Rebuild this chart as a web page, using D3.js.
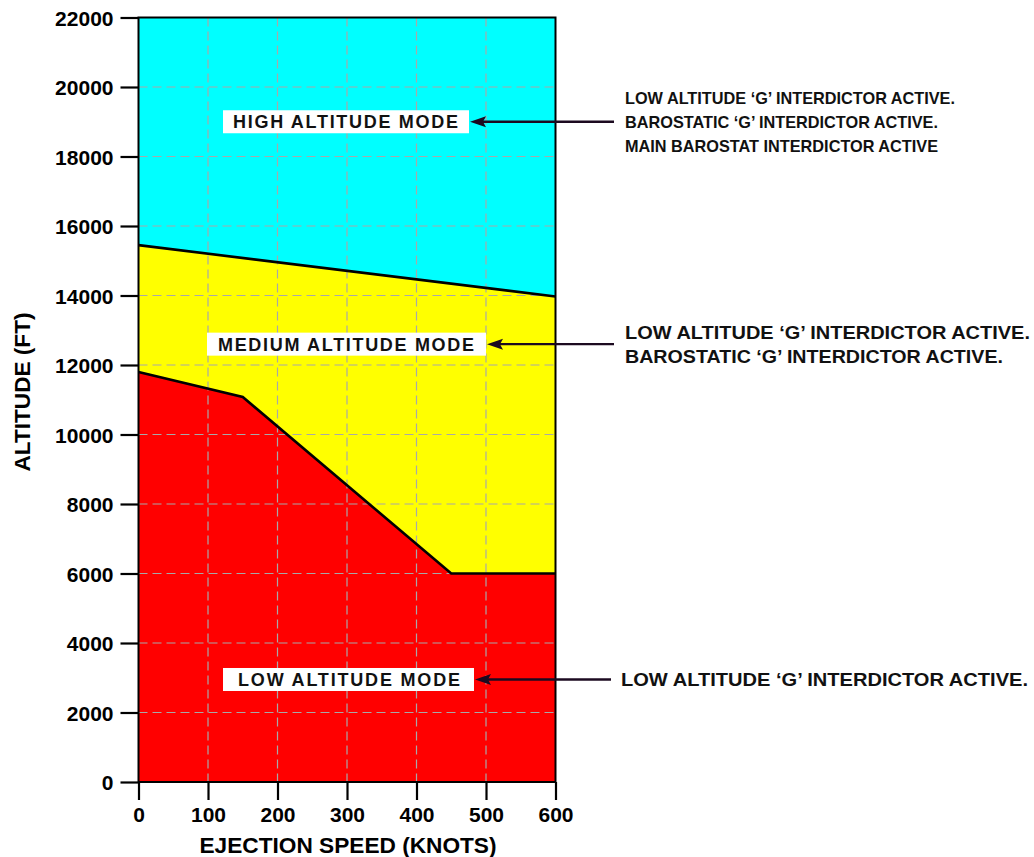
<!DOCTYPE html>
<html>
<head>
<meta charset="utf-8">
<script src="https://cdn.jsdelivr.net/npm/d3@7"></script>
<style>
  body { margin: 0; background: #fff; }
  svg { display: block; font-family: "Liberation Sans", Arial, sans-serif; }
</style>
</head>
<body>
<div class="chart"></div>
<script>
// mode boundaries
var lowSpeeds = [0, 150, 450, 600];
var lowAlt = [11800, 11080, 6000, 6000];
var highSpeeds = [0, 600];
var highAlt = [15450, 13970];

var xTicks = [0, 100, 200, 300, 400, 500, 600];
var yTicks = [0, 2000, 4000, 6000, 8000, 10000, 12000, 14000, 16000, 18000, 20000, 22000];

var modeNames = ["HIGH ALTITUDE MODE", "MEDIUM ALTITUDE MODE", "LOW ALTITUDE MODE"];
var modeAlt = [19000, 12600, 2950];
var modeNotes = [
  ["LOW ALTITUDE \u2018G\u2019 INTERDICTOR ACTIVE.", "BAROSTATIC \u2018G\u2019 INTERDICTOR ACTIVE.", "MAIN BAROSTAT INTERDICTOR ACTIVE"],
  ["LOW ALTITUDE \u2018G\u2019 INTERDICTOR ACTIVE.", "BAROSTATIC \u2018G\u2019 INTERDICTOR ACTIVE."],
  ["LOW ALTITUDE \u2018G\u2019 INTERDICTOR ACTIVE."]
];

function init() {
  var w = 1034, h = 857;
  var svg = d3.select(".chart").append("svg")
    .attr("width", w)
    .attr("height", h);

  var x = d3.scaleLinear().domain([0, 600]).range([138.5, 555.5]);
  var y = d3.scaleLinear().domain([0, 22000]).range([782, 17.5]);

  var low = lowSpeeds.map(function(s, i) { return [s, lowAlt[i]]; });
  var high = highSpeeds.map(function(s, i) { return [s, highAlt[i]]; });

  var area = d3.area().x(function(d) { return x(d[0]); });

  // red: ground up to the low boundary
  svg.append("path")
    .attr("d", area.y0(y(0)).y1(function(d) { return y(d[1]); })(low))
    .attr("fill", "#ff0000");

  // yellow: between the two boundaries
  var mid = [];
  low.forEach(function(d) { mid.push(d); });
  high.slice().reverse().forEach(function(d) { mid.push(d); });
  svg.append("path")
    .attr("d", d3.line().x(function(d) { return x(d[0]); }).y(function(d) { return y(d[1]); })(mid) + "Z")
    .attr("fill", "#ffff00");

  // cyan: above the high boundary
  svg.append("path")
    .attr("d", d3.area().x(function(d) { return x(d[0]); }).y0(function(d) { return y(d[1]); }).y1(y(22000))(high))
    .attr("fill", "#00ffff");

  // dashed grid
  var grid = svg.append("g")
    .attr("stroke", "#a8a8a8")
    .attr("stroke-width", 1.2)
    .attr("stroke-dasharray", "9,5");
  grid.selectAll(".vg").data(xTicks.slice(1, -1)).enter().append("line")
    .attr("x1", function(d) { return x(d); }).attr("x2", function(d) { return x(d); })
    .attr("y1", y(22000)).attr("y2", y(0));
  grid.selectAll(".hg").data(yTicks.slice(1, -1)).enter().append("line")
    .attr("y1", function(d) { return y(d); }).attr("y2", function(d) { return y(d); })
    .attr("x1", x(0)).attr("x2", x(600));

  // boundary lines
  var line = d3.line().x(function(d) { return x(d[0]); }).y(function(d) { return y(d[1]); });
  [low, high].forEach(function(pts) {
    svg.append("path").attr("d", line(pts))
      .attr("fill", "none").attr("stroke", "#000").attr("stroke-width", 2.6)
      .attr("stroke-linejoin", "miter");
  });

  // frame
  svg.append("rect")
    .attr("x", x(0)).attr("y", y(22000))
    .attr("width", x(600) - x(0)).attr("height", y(0) - y(22000))
    .attr("fill", "none").attr("stroke", "#000").attr("stroke-width", 2);

  // axes
  var xAxis = svg.append("g").attr("transform", "translate(0," + y(0) + ")")
    .call(d3.axisBottom(x).tickValues(xTicks).tickSize(18).tickPadding(7).tickFormat(d3.format("d")));
  var yAxis = svg.append("g").attr("transform", "translate(" + x(0) + ",0)")
    .call(d3.axisLeft(y).tickValues(yTicks).tickSize(18).tickPadding(7).tickFormat(d3.format("d")));
  [xAxis, yAxis].forEach(function(g) {
    g.attr("font-size", 21).attr("font-family", null);
    g.select(".domain").remove();
    g.selectAll(".tick line").attr("stroke", "#000").attr("stroke-width", 2.2);
    g.selectAll(".tick text").attr("fill", "#000")
      .style("font-size", "21px").style("font-weight", "bold");
  });
  yAxis.selectAll(".tick text").attr("dy", "0.36em");

  svg.append("text")
    .attr("x", 348).attr("y", 853)
    .attr("text-anchor", "middle")
    .attr("textLength", 297).attr("lengthAdjust", "spacingAndGlyphs")
    .style("font-size", "22.5px").style("font-weight", "bold")
    .text("EJECTION SPEED (KNOTS)");
  svg.append("text")
    .attr("transform", "translate(30," + 392 + ") rotate(-90)")
    .attr("text-anchor", "middle")
    .attr("textLength", 159).attr("lengthAdjust", "spacingAndGlyphs")
    .style("font-size", "22.5px").style("font-weight", "bold")
    .text("ALTITUDE (FT)");

  // mode labels with boxes and arrows
  var boxes = [[223, 469], [207, 486], [223, 474]];
  var textSpan = [[233, 458], [218, 474], [238, 460]];
  var arrowEnd = [614, 614, 611];
  var noteX = [625, 625, 621];
  var noteSize = [17, 19, 19];
  var noteWidths = [[330, 313, 313], [405, 378], [407]];
  var noteGap = [24, 24, 24];

  modeNames.forEach(function(name, i) {
    var cy = y(modeAlt[i]);
    svg.append("rect")
      .attr("x", boxes[i][0]).attr("y", cy - 11.5)
      .attr("width", boxes[i][1] - boxes[i][0]).attr("height", 23)
      .attr("fill", "#fff");
    svg.append("text")
      .attr("x", textSpan[i][0]).attr("y", cy + 6.5)
      .attr("textLength", textSpan[i][1] - textSpan[i][0])
      .attr("lengthAdjust", "spacing")
      .style("font-size", "18px").style("font-weight", "bold")
      .attr("fill", "#111")
      .text(name);

    // arrow
    var ax = boxes[i][1] + 1;
    svg.append("line")
      .attr("x1", ax + 10).attr("x2", arrowEnd[i])
      .attr("y1", cy).attr("y2", cy)
      .attr("stroke", "#1c0a20").attr("stroke-width", 2.4);
    svg.append("path")
      .attr("d", "M" + ax + "," + cy + "L" + (ax + 16) + "," + (cy - 5.5) + "L" + (ax + 13) + "," + cy + "L" + (ax + 16) + "," + (cy + 5.5) + "Z")
      .attr("fill", "#1c0a20");

    // notes on the right
    var lines = modeNotes[i];
    var top = cy - (lines.length === 3 ? noteGap[i] : (lines.length === 2 ? noteGap[i] / 2 : 0));
    lines.forEach(function(t, j) {
      svg.append("text")
        .attr("x", noteX[i]).attr("y", top + j * noteGap[i] + noteSize[i] * 0.36)
        .attr("textLength", noteWidths[i][j])
        .attr("lengthAdjust", "spacingAndGlyphs")
        .style("font-size", noteSize[i] + "px").style("font-weight", "bold")
        .attr("fill", "#111")
        .text(t);
    });
  });
}
window.onload = init;
</script>
</body>
</html>
